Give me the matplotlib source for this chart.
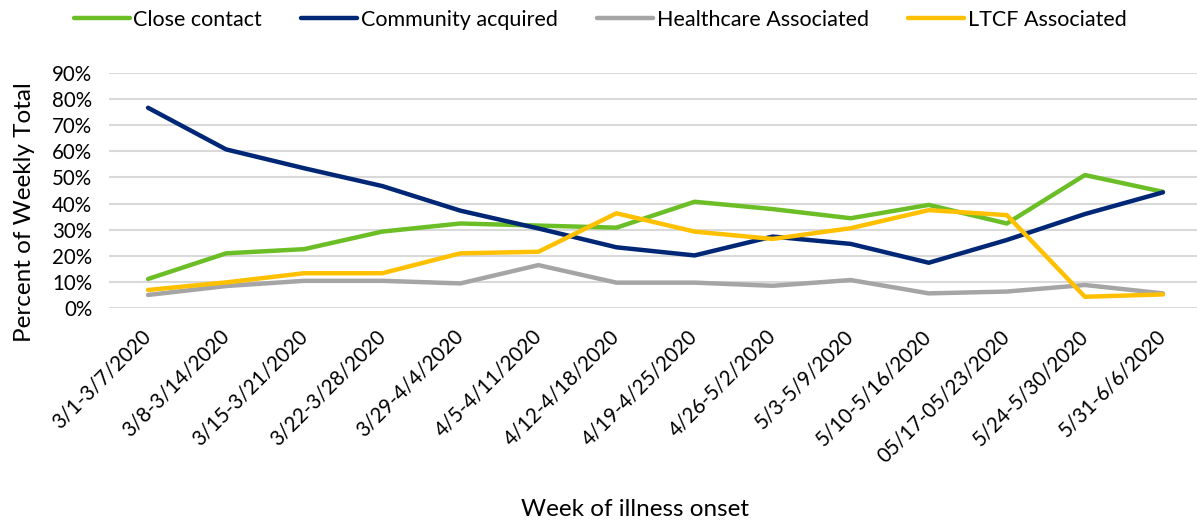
import matplotlib
matplotlib.use("Agg")
import matplotlib.pyplot as plt
from matplotlib.ticker import PercentFormatter

weeks = ["3/1-3/7/2020", "3/8-3/14/2020", "3/15-3/21/2020", "3/22-3/28/2020",
         "3/29-4/4/2020", "4/5-4/11/2020", "4/12-4/18/2020", "4/19-4/25/2020",
         "4/26-5/2/2020", "5/3-5/9/2020", "5/10-5/16/2020", "05/17-05/23/2020",
         "5/24-5/30/2020", "5/31-6/6/2020"]

close_contact = [11.2, 21.0, 22.6, 29.3, 32.4, 31.6, 30.8, 40.7, 37.9, 34.4, 39.5, 32.4, 50.9, 44.5]
community     = [76.6, 60.7, 53.5, 46.7, 37.3, 30.5, 23.3, 20.2, 27.4, 24.6, 17.4, 26.1, 36.0, 44.3]
healthcare    = [5.1, 8.5, 10.5, 10.5, 9.5, 16.5, 9.8, 9.8, 8.6, 10.8, 5.7, 6.4, 8.9, 5.7]
ltcf          = [7.0, 9.9, 13.4, 13.4, 21.0, 21.6, 36.3, 29.3, 26.5, 30.6, 37.5, 35.6, 4.4, 5.3]

series = [("Close contact", close_contact, "#6CBE27"),
          ("Community acquired", community, "#002776"),
          ("Healthcare Associated", healthcare, "#A5A5A5"),
          ("LTCF Associated", ltcf, "#FFC000")]

plt.rcParams['font.family'] = ['Lato', 'DejaVu Sans']

fig = plt.figure(figsize=(11.97, 5.23), dpi=100)
ax = fig.add_axes([109/1197, 1 - 308.3/523, (1202 - 109)/1197, (308.3 - 72.7)/523])

x = list(range(len(weeks)))
for name, vals, col in series:
    ax.plot(x, vals, color=col, lw=3.2, label=name, solid_capstyle='round', solid_joinstyle='round')

ax.set_xlim(-0.5, len(weeks) - 0.5)
ax.set_ylim(0, 90)
ax.set_yticks(range(0, 91, 10))
ax.yaxis.set_major_formatter(PercentFormatter(decimals=0))
ax.grid(axis='y', color='#D9D9D9', lw=1.5)
ax.set_axisbelow(True)
for s in ax.spines.values():
    s.set_visible(False)
ax.tick_params(axis='both', length=0, labelsize=14.8)
ax.tick_params(axis='y', pad=12)
ax.set_xticks(x)
ax.set_xticklabels(weeks, rotation=45, ha='right', va='center', rotation_mode='anchor')
ax.tick_params(axis='x', pad=18)

ax.set_ylabel("Percent of Weekly Total", fontsize=17.5)
ax.yaxis.set_label_coords(-74/1093, 0.41)
fig.text(635/1197, 1 - 509/523, "Week of illness onset", fontsize=17.5, ha='center', va='center')

leg = fig.legend(loc='center', bbox_to_anchor=(600/1197, 1 - 20/523), ncol=4, frameon=False,
                 fontsize=15.5, handlelength=2.6, handletextpad=0.15, columnspacing=1.85)

fig.savefig("out.png", dpi=100)
